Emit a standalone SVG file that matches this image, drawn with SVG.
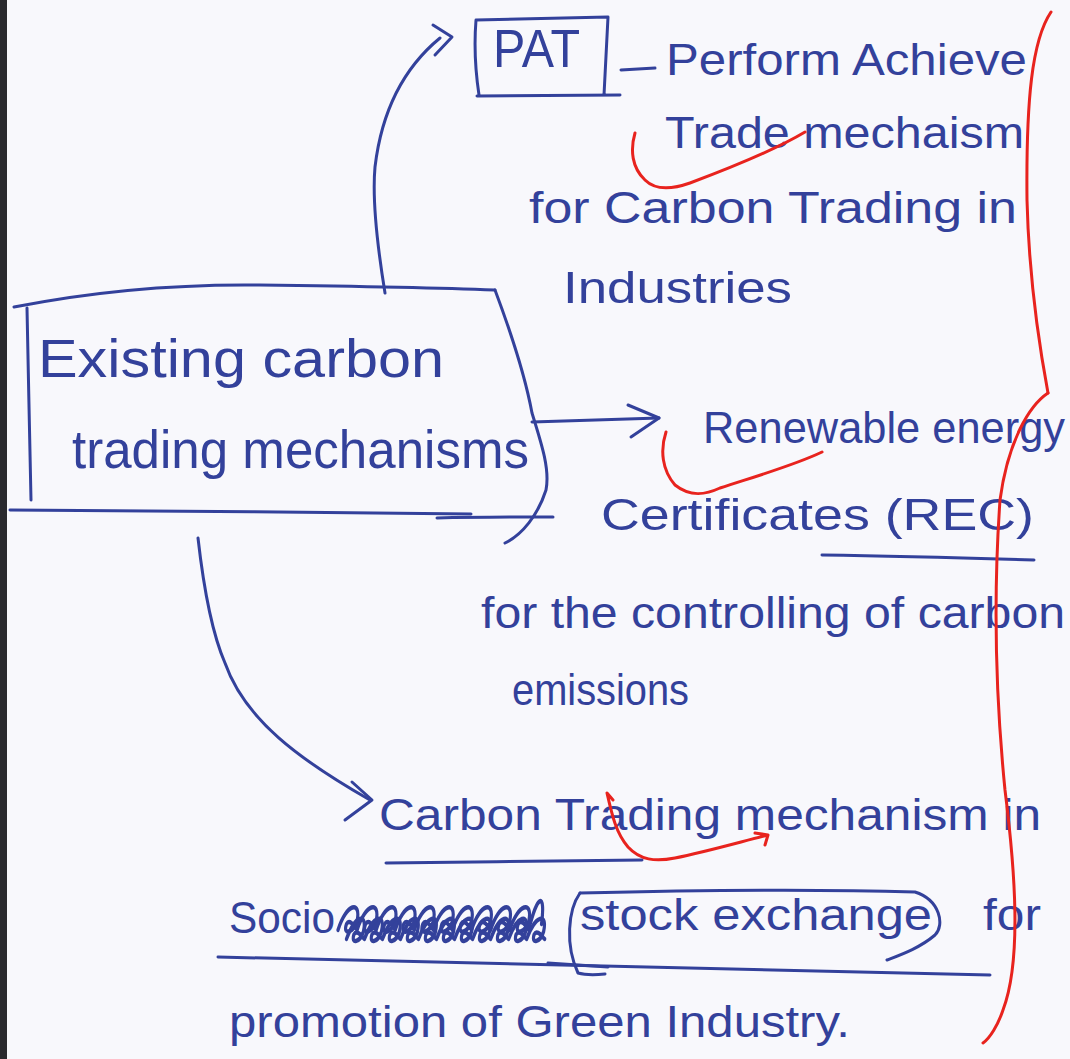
<svg xmlns="http://www.w3.org/2000/svg" width="1070" height="1059" viewBox="0 0 1070 1059">
<style>
.t{font-family:"Liberation Sans","DejaVu Sans",sans-serif;fill:#33419b;font-size:44px}
.big{font-size:54px}
.ln{fill:none;stroke:#33419b;stroke-width:3;stroke-linecap:round;stroke-linejoin:round}
.red{fill:none;stroke:#e8231e;stroke-width:3;stroke-linecap:round;stroke-linejoin:round}
</style>
<rect width="1070" height="1059" fill="#f8f8fc"/>
<rect x="0" y="0" width="7" height="1059" fill="#2a2a2e"/>

<g id="node-existing">
<path class="ln" d="M14,307 C90,292 170,284 259,285 C340,286 420,287 495,290"/>
<path class="ln" d="M495,290 C510,330 525,375 532,413 C542,445 550,470 546,490 C538,515 522,535 505,543"/>
<path class="ln" d="M27,308 C28,370 30,440 31,500"/>
<path class="ln" d="M10,510 C160,511 320,512 471,514"/>
<path class="ln" d="M437,518 C480,517 520,517 553,517"/>
<text class="t big" x="38" y="377" textLength="406" lengthAdjust="spacingAndGlyphs">Existing carbon</text>
<text class="t big" x="72" y="468" textLength="457" lengthAdjust="spacingAndGlyphs">trading mechanisms</text>
</g>

<g id="node-pat">
<path class="ln" d="M476,20 C474,45 476,75 479,95 M476,20 L608,17 L604,95 M477,96 L620,95"/>
<text class="t big" x="493" y="67" textLength="87" lengthAdjust="spacingAndGlyphs">PAT</text>
<path class="ln" d="M621,70 L655,68"/>
<text class="t" x="666" y="75" textLength="361" lengthAdjust="spacingAndGlyphs">Perform Achieve</text>
<text class="t" x="665" y="148" textLength="359" lengthAdjust="spacingAndGlyphs">Trade mechaism</text>
<text class="t" x="529" y="223" textLength="488" lengthAdjust="spacingAndGlyphs">for Carbon Trading in</text>
<text class="t" x="563" y="303" textLength="229" lengthAdjust="spacingAndGlyphs">Industries</text>
</g>

<g id="node-rec">
<text class="t" x="703" y="443" textLength="362" lengthAdjust="spacingAndGlyphs">Renewable energy</text>
<text class="t" x="601" y="530" textLength="433" lengthAdjust="spacingAndGlyphs">Certificates (REC)</text>
<path class="ln" d="M822,555 C900,556 970,558 1034,560"/>
<text class="t" x="481" y="628" textLength="584" lengthAdjust="spacingAndGlyphs">for the controlling of carbon</text>
<text class="t" x="512" y="705" textLength="177" lengthAdjust="spacingAndGlyphs">emissions</text>
</g>

<g id="node-stock">
<text class="t" x="379" y="830" textLength="662" lengthAdjust="spacingAndGlyphs">Carbon Trading mechanism in</text>
<path class="ln" d="M386,863 C470,862 560,861 642,860"/>
<text class="t" x="229" y="933" textLength="106" lengthAdjust="spacingAndGlyphs">Socio</text>
<g transform="translate(338,930) scale(1.06,1.5) translate(-336,-928)">
<path class="ln" stroke-width="2.2" d="M336,928 c8,-18 22,-20 18,-6 c-3,8 -14,10 -10,2 c3,-4 8,2 10,4 c8,-18 22,-20 18,-6 c-3,8 -14,10 -10,2 c3,-4 8,2 10,4 c8,-18 22,-20 18,-6 c-3,8 -14,10 -10,2 c3,-4 8,2 10,4 c8,-18 22,-20 18,-6 c-3,8 -14,10 -10,2 c3,-4 8,2 10,4 c8,-18 22,-20 18,-6 c-3,8 -14,10 -10,2 c3,-4 8,2 10,4 c8,-18 22,-20 18,-6 c-3,8 -14,10 -10,2 c3,-4 8,2 10,4 c8,-18 22,-20 18,-6 c-3,8 -14,10 -10,2 c3,-4 8,2 10,4 c8,-18 22,-20 18,-6 c-3,8 -14,10 -10,2 c3,-4 8,2 10,4 c8,-18 22,-20 18,-6 c-3,8 -14,10 -10,2 c3,-4 8,2 10,4 c8,-18 22,-20 18,-6 c-3,8 -14,10 -10,2 c3,-4 8,2 10,4 c8,-24 16,-26 12,-4"/>
<path class="ln" stroke-width="2.2" d="M344,934 c8,-16 20,-18 16,-5 c-3,7 -12,9 -9,2 c3,-4 8,2 10,3 c8,-16 20,-18 16,-5 c-3,7 -12,9 -9,2 c3,-4 8,2 10,3 c8,-16 20,-18 16,-5 c-3,7 -12,9 -9,2 c3,-4 8,2 10,3 c8,-16 20,-18 16,-5 c-3,7 -12,9 -9,2 c3,-4 8,2 10,3 c8,-16 20,-18 16,-5 c-3,7 -12,9 -9,2 c3,-4 8,2 10,3 c8,-16 20,-18 16,-5 c-3,7 -12,9 -9,2 c3,-4 8,2 10,3 c8,-16 20,-18 16,-5 c-3,7 -12,9 -9,2 c3,-4 8,2 10,3 c8,-16 20,-18 16,-5 c-3,7 -12,9 -9,2 c3,-4 8,2 10,3 c8,-16 20,-18 16,-5 c-3,7 -12,9 -9,2 c3,-4 8,2 10,3 c8,-16 20,-18 16,-5 c-3,7 -12,9 -9,2 c3,-4 8,2 10,3 c8,-16 20,-18 16,-5 c-3,7 -12,9 -9,2 c3,-4 8,2 10,3"/>
</g>
<path class="ln" d="M580,893 C700,890 820,889 915,892 C940,900 945,925 935,935 C920,948 900,955 887,960"/>
<path class="ln" d="M580,893 C568,910 565,945 578,973 C585,975 595,975 605,974"/>
<text class="t" x="580" y="930" textLength="352" lengthAdjust="spacingAndGlyphs">stock exchange</text>
<text class="t" x="983" y="930" textLength="58" lengthAdjust="spacingAndGlyphs">for</text>
<path class="ln" d="M218,957 C450,962 700,970 990,975"/>
<path class="ln" d="M548,963 L608,967"/>
<text class="t" x="229" y="1037" textLength="621" lengthAdjust="spacingAndGlyphs">promotion of Green Industry.</text>
</g>

<g id="connectors">
<path class="ln" d="M385,293 C378,250 372,200 375,167 C380,125 395,75 440,38"/>
<path class="ln" d="M433,25 L452,37 L435,55"/>
<path class="ln" d="M532,422 L659,418"/>
<path class="ln" d="M628,405 L659,418 L631,437"/>
<path class="ln" d="M198,538 C205,600 215,640 225,663 C245,720 300,760 370,800"/>
<path class="ln" d="M352,782 L372,800 L345,820"/>
</g>

<g id="red-marks">
<path class="red" d="M1051,12 C1032,40 1026,100 1027,200 C1029,280 1040,350 1048,393"/>
<path class="red" d="M1048,393 C1030,405 1008,440 1000,500 C993,600 996,700 1005,790 C1015,870 1022,960 1003,1010 C998,1025 990,1038 983,1043"/>
<path class="red" d="M635,133 C630,150 632,168 645,180 C655,190 670,190 690,183 C730,168 775,150 805,132"/>
<path class="red" d="M666,432 C660,450 662,470 675,485 C690,497 705,495 720,488 C760,475 795,465 822,452"/>
<path class="red" d="M613,800 L607,793 C612,815 616,833 628,847 C640,860 655,862 675,858 C705,852 740,842 768,835 M755,833 L768,835 L765,845"/>
</g>
</svg>
